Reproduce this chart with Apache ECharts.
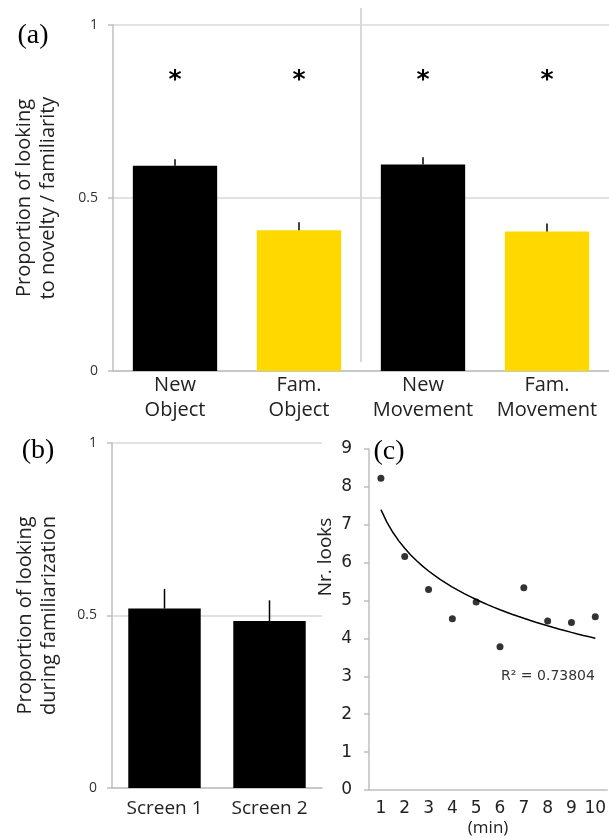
<!DOCTYPE html>
<html>
<head>
<meta charset="utf-8">
<style>
  html, body { margin: 0; padding: 0; background: #fff; }
  #chart { width: 609px; height: 838px; }
</style>
<script src="https://cdn.jsdelivr.net/npm/echarts@6.0.0/dist/echarts.min.js"></script>
</head>
<body>
<div id="chart"></div>
<script>
// (a) looking to novelty / familiarity
const catsA = ['New\nObject', 'Fam.\nObject', 'New\nMovement', 'Fam.\nMovement'];
const meanA = [0.593, 0.407, 0.597, 0.403];
const errTopA = [0.612, 0.430, 0.618, 0.426];
const signifA = ['*', '*', '*', '*'];

// (b) looking during familiarization
const catsB = ['Screen 1', 'Screen 2'];
const meanB = [0.520, 0.484];
const errTopB = [0.577, 0.544];

// (c) number of looks per minute
const minutes = [1, 2, 3, 4, 5, 6, 7, 8, 9, 10];
const looks = [8.23, 6.16, 5.29, 4.52, 4.96, 3.78, 5.34, 4.46, 4.42, 4.57];
const rSquaredText = 'R² = 0.73804';

const GRID_GRAY = '#d9d9d9';
const AXIS_GRAY = '#bfbfbf';
const SIG_Y = 0.84;

// logarithmic trend line (least squares on ln x), like the spreadsheet one
function logFit(xs, ys) {
  const lx = xs.map(Math.log);
  const n = xs.length;
  const mx = lx.reduce((a, b) => a + b, 0) / n;
  const my = ys.reduce((a, b) => a + b, 0) / n;
  let sxy = 0, sxx = 0;
  for (let i = 0; i < n; i++) {
    sxy += (lx[i] - mx) * (ys[i] - my);
    sxx += (lx[i] - mx) * (lx[i] - mx);
  }
  const b = sxy / sxx;
  const a = my - b * mx;
  return x => a + b * Math.log(x);
}
const fit = logFit(minutes, looks);
const trend = [];
for (let x = minutes[0]; x <= minutes[minutes.length - 1] + 1e-9; x += 0.25) {
  trend.push([x, fit(x)]);
}

function errBar(params, api) {
  const base = api.coord([api.value(0), api.value(1)]);
  const top = api.coord([api.value(0), api.value(2)]);
  return {
    type: 'line',
    shape: { x1: base[0], y1: base[1], x2: top[0], y2: top[1] },
    style: { stroke: '#000', lineWidth: 1.5 }
  };
}

function sigMark(params, api) {
  const p = api.coord([api.value(0), api.value(1)]);
  return {
    type: 'text',
    x: p[0],
    y: p[1],
    style: {
      text: signifA[params.dataIndex],
      font: 'bold 25px "DejaVu Sans"',
      fill: '#000',
      align: 'center',
      verticalAlign: 'middle'
    }
  };
}

const barYAxis = (gridIndex, name, nameGap) => ({
  type: 'value',
  gridIndex,
  min: 0,
  max: 1,
  interval: 0.5,
  name,
  nameLocation: 'middle',
  nameRotate: 90,
  nameGap,
  nameTextStyle: { fontFamily: 'Open Sans', fontSize: 20, color: '#222', lineHeight: 24 },
  axisLine: { show: true, lineStyle: { color: AXIS_GRAY, width: 1.5 } },
  axisTick: { show: true, length: 5, lineStyle: { color: AXIS_GRAY, width: 1.5 } },
  axisLabel: { fontFamily: 'Open Sans', fontSize: 14, color: '#333', margin: 15 },
  splitLine: { lineStyle: { color: GRID_GRAY, width: 1.5 } }
});

const chart = echarts.init(document.getElementById('chart'), null, { renderer: 'canvas' });

const option = {
  animation: false,
  backgroundColor: '#fff',
  textStyle: { fontFamily: 'Open Sans' },
  grid: [
    { left: 113, top: 25, width: 496, height: 346 },
    { left: 112, top: 443, width: 210, height: 345 },
    { left: 369, top: 449, width: 240, height: 342 }
  ],
  xAxis: [
    {
      type: 'category', gridIndex: 0, data: catsA,
      axisLine: { lineStyle: { color: AXIS_GRAY, width: 1.5 } },
      axisTick: { length: 5, lineStyle: { color: AXIS_GRAY, width: 1.5 } },
      axisLabel: { interval: 0, fontSize: 20, color: '#222', lineHeight: 25, margin: 2 }
    },
    {
      type: 'category', gridIndex: 1, data: catsB,
      axisLine: { lineStyle: { color: AXIS_GRAY, width: 1.5 } },
      axisTick: { length: 5, lineStyle: { color: AXIS_GRAY, width: 1.5 } },
      axisLabel: { interval: 0, fontSize: 19, color: '#222', margin: 11 }
    },
    {
      type: 'category', gridIndex: 2, data: minutes.map(String),
      name: '(min)', nameLocation: 'middle', nameGap: 30,
      nameTextStyle: { fontFamily: 'Open Sans', fontSize: 17, color: '#222' },
      axisLine: { lineStyle: { color: AXIS_GRAY, width: 1.5 } },
      axisTick: { interval: 0, length: 5, lineStyle: { color: AXIS_GRAY, width: 1.5 } },
      axisLabel: { interval: 0, fontFamily: 'DejaVu Sans', fontSize: 17, color: '#222', margin: 10 }
    },
    { type: 'value', gridIndex: 2, min: 0.5, max: 10.5, show: false }
  ],
  yAxis: [
    barYAxis(0, 'Proportion of looking\nto novelty / familiarity', 53),
    barYAxis(1, 'Proportion of looking\nduring familiarization', 51),
    {
      type: 'value', gridIndex: 2, min: 0, max: 9, interval: 1,
      axisLine: { show: true, lineStyle: { color: AXIS_GRAY, width: 1.5 } },
      axisTick: { show: true, length: 5, lineStyle: { color: AXIS_GRAY, width: 1.5 } },
      axisLabel: { fontFamily: 'DejaVu Sans', fontSize: 17, color: '#222', margin: 17 },
      splitLine: { show: false }
    }
  ],
  series: [
    {
      type: 'bar', xAxisIndex: 0, yAxisIndex: 0, data: meanA, barWidth: '68%',
      itemStyle: {
        color: p => (catsA[p.dataIndex].startsWith('New') ? '#000' : '#ffd800')
      }
    },
    {
      type: 'custom', xAxisIndex: 0, yAxisIndex: 0, renderItem: errBar,
      data: meanA.map((v, i) => [i, v, errTopA[i]]), z: 5
    },
    {
      type: 'custom', xAxisIndex: 0, yAxisIndex: 0, renderItem: sigMark,
      data: signifA.map((s, i) => [i, SIG_Y]), z: 5
    },
    {
      type: 'bar', xAxisIndex: 1, yAxisIndex: 1, data: meanB, barWidth: '69%',
      itemStyle: { color: '#000' }
    },
    {
      type: 'custom', xAxisIndex: 1, yAxisIndex: 1, renderItem: errBar,
      data: meanB.map((v, i) => [i, v, errTopB[i]]), z: 5
    },
    {
      type: 'scatter', xAxisIndex: 3, yAxisIndex: 2, symbolSize: 7,
      itemStyle: { color: '#000' },
      data: minutes.map((m, i) => [m, looks[i]])
    },
    {
      type: 'line', xAxisIndex: 3, yAxisIndex: 2, data: trend,
      showSymbol: false, lineStyle: { color: '#000', width: 1.5 }
    }
  ]
};
chart.setOption(option);

// separator between the object and movement halves of panel (a)
const sepX = (chart.convertToPixel({ xAxisIndex: 0 }, 1) + chart.convertToPixel({ xAxisIndex: 0 }, 2)) / 2;
const zeroY = chart.convertToPixel({ yAxisIndex: 0 }, 0);

chart.setOption({
  graphic: [
    {
      type: 'line', shape: { x1: sepX, y1: 8, x2: sepX, y2: zeroY - 9 },
      style: { stroke: GRID_GRAY, lineWidth: 2 }
    },
    {
      type: 'text', x: 33, y: 36,
      style: { text: '(a)', font: '28px "Liberation Serif"', fill: '#000', align: 'center', verticalAlign: 'middle' }
    },
    {
      type: 'text', x: 38, y: 451,
      style: { text: '(b)', font: '28px "Liberation Serif"', fill: '#000', align: 'center', verticalAlign: 'middle' }
    },
    {
      type: 'text', x: 389, y: 452,
      style: { text: '(c)', font: '28px "Liberation Serif"', fill: '#000', align: 'center', verticalAlign: 'middle' }
    },
    {
      type: 'text', x: 326, y: 557, rotation: Math.PI / 2,
      style: { text: 'Nr. looks', font: '19px "Open Sans"', fill: '#222', align: 'center', verticalAlign: 'middle' }
    },
    {
      type: 'text', x: 548, y: 676,
      style: { text: rSquaredText, font: '14px "DejaVu Sans"', fill: '#333', align: 'center', verticalAlign: 'middle' }
    }
  ]
});
</script>
</body>
</html>
